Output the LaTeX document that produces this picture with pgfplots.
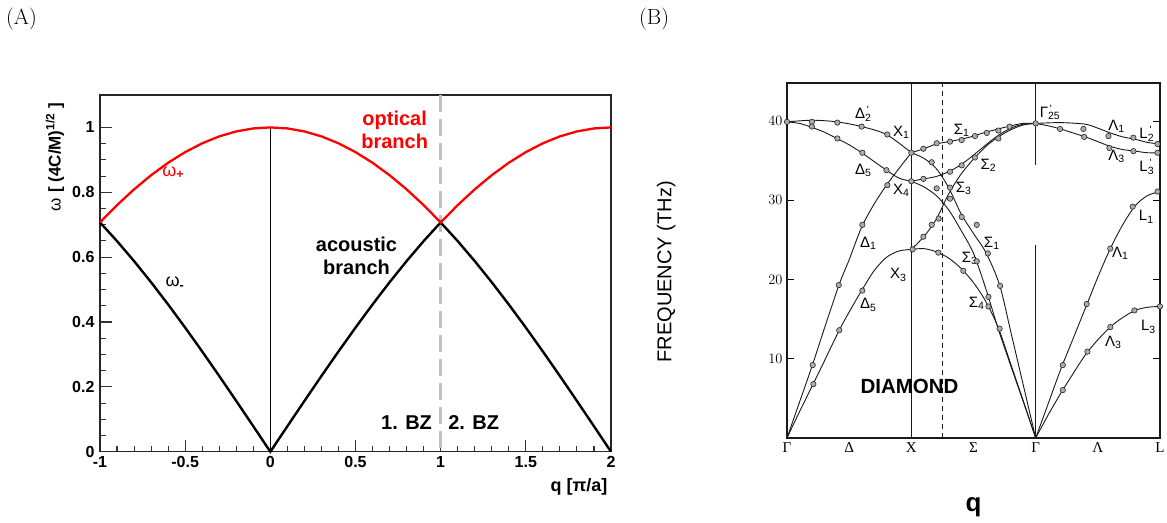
\documentclass[border=0pt]{standalone}
\usepackage{fontspec}
\usepackage{pgfplots}
\pgfplotsset{compat=1.18}
\newfontfamily\hel{Liberation Sans}
\newfontfamily\tms{Liberation Serif}
\definecolor{bzgray}{RGB}{200,192,184}
\begin{document}
\begin{tikzpicture}[x=1pt,y=1pt]
\useasboundingbox (0,0) rectangle (1167,522);
\node[anchor=base west,font=\fontsize{22}{26}\selectfont,inner sep=0] at (6,497) {(A)};
\node[anchor=base west,font=\fontsize{22}{26}\selectfont,inner sep=0] at (639,497) {(B)};
% ---------------- Panel A
\begin{axis}[at={(100pt,70.3pt)},anchor=south west,scale only axis,
  width=511pt,height=356.7pt,
  xmin=-1,xmax=2,ymin=0,ymax=1.1,
  xtick={-1,-0.5,0,0.5,1,1.5,2},xticklabels={-1,-0.5,0,0.5,1,1.5,2},
  ytick={0,0.2,0.4,0.6,0.8,1},yticklabels={0,0.2,0.4,0.6,0.8,1},
  minor x tick num=4,minor y tick num=3,
  tick pos=left,tick align=inside,
  major tick length=12pt,minor tick length=6pt,
  axis line style={line width=1.3pt,black!85},
  tick style={line width=1.1pt,black!80},
  ticklabel style={font=\hel\bfseries\fontsize{16}{18}\selectfont},
  xticklabel style={yshift=-1pt},
  yticklabel style={xshift=-2pt},
  ylabel={{\hel ω} {\hel\bfseries [ (4C/M)\textsuperscript{1/2} ]}},
  ylabel style={at={(axis description cs:-0.088,0.826)},anchor=center,font=\fontsize{17}{20}\selectfont},
  xlabel={\hel\bfseries q [π/a]},
  xlabel style={at={(axis description cs:1,-0.099)},anchor=east,font=\fontsize{18}{20}\selectfont},
  clip=false]
\addplot[black,line width=0.9pt] coordinates {(0,0) (0,1)};
\addplot[bzgray,line width=2.5pt,dash pattern=on 17pt off 7pt] coordinates {(1,1.1) (1,0)};
\addplot[black,line width=2.4pt] coordinates {
(-1,0.70711) (-0.9,0.64945) (-0.8,0.58779) (-0.7,0.52250) (-0.6,0.45399) (-0.5,0.38268)
(-0.4,0.30902) (-0.3,0.23345) (-0.2,0.15643) (-0.1,0.07846) (0,0)
(0.1,0.07846) (0.2,0.15643) (0.3,0.23345) (0.4,0.30902) (0.5,0.38268) (0.6,0.45399)
(0.7,0.52250) (0.8,0.58779) (0.9,0.64945) (1,0.70711)
(1.1,0.64945) (1.2,0.58779) (1.3,0.52250) (1.4,0.45399) (1.5,0.38268) (1.6,0.30902)
(1.7,0.23345) (1.8,0.15643) (1.9,0.07846) (2,0)};
\addplot[red,line width=2.3pt] coordinates {
(-1,0.70711) (-0.9,0.76041) (-0.8,0.80902) (-0.7,0.85264) (-0.6,0.89101) (-0.5,0.92388)
(-0.4,0.95106) (-0.3,0.97237) (-0.2,0.98769) (-0.1,0.99692) (0,1)
(0.1,0.99692) (0.2,0.98769) (0.3,0.97237) (0.4,0.95106) (0.5,0.92388) (0.6,0.89101)
(0.7,0.85264) (0.8,0.80902) (0.9,0.76041) (1,0.70711)
(1.1,0.76041) (1.2,0.80902) (1.3,0.85264) (1.4,0.89101) (1.5,0.92388) (1.6,0.95106)
(1.7,0.97237) (1.8,0.98769) (1.9,0.99692) (2,1)};
\node[red,font=\hel\fontsize{18}{20}\selectfont] at (axis cs:-0.57,0.86) {ω\textsubscript{\bfseries +}};
\node[black,font=\hel\fontsize{18}{20}\selectfont] at (axis cs:-0.56,0.52) {ω\textsubscript{\bfseries -}};
\node[red,font=\hel\bfseries\fontsize{20}{23}\selectfont,align=center] at (axis cs:0.73,0.994) {optical\\branch};
\node[black,font=\hel\bfseries\fontsize{20}{23}\selectfont,align=center] at (axis cs:0.506,0.605) {acoustic\\branch};
\node[black,font=\hel\bfseries\fontsize{20}{23}\selectfont] at (axis cs:0.80,0.091) {1. BZ};
\node[black,font=\hel\bfseries\fontsize{20}{23}\selectfont] at (axis cs:1.194,0.091) {2. BZ};
\end{axis}
% ---------------- Panel B
\begin{axis}[at={(787pt,84pt)},anchor=south west,scale only axis,
  width=373pt,height=355pt,
  xmin=0,xmax=3,ymin=0,ymax=44.8,
  xtick={0,0.5,1,1.5,2,2.5,3},xticklabels={Γ,Δ,X,Σ,Γ,Λ,L},
  ytick={10,20,30,40},
  ytick pos=both,tick align=inside,
  major tick length=7pt,
  x tick style={draw=none},
  y tick style={line width=0.9pt,black},
  axis line style={line width=1.2pt,black!90},
  xticklabel style={font=\tms\fontsize{15}{17}\selectfont,yshift=-1pt},
  yticklabel style={font=\hel\fontsize{15}{17}\selectfont,xshift=-1pt},
  ylabel={\hel FREQUENCY (THz)},
  ylabel style={at={(axis description cs:-0.324,0.468)},anchor=center,font=\fontsize{20}{22}\selectfont},
  xlabel={\hel\bfseries q},
  xlabel style={at={(axis description cs:0.5,-0.196)},anchor=center,font=\fontsize{26}{28}\selectfont},
  clip=false,
  every axis plot/.append style={black!90,line width=0.9pt}]
% vertical lines
\addplot[no markers] coordinates {(1,0) (1,44.8)};
\addplot[no markers,dash pattern=on 5pt off 4pt] coordinates {(1.25,0) (1.25,44.8)};
\addplot[no markers] coordinates {(2,0) (2,24.3)};
\addplot[no markers] coordinates {(2,34.4) (2,44.8)};
% Gamma - X
\addplot[smooth] coordinates {(0,39.9) (0.2,40.1) (0.4,39.9) (0.6,39.3) (0.8,38.3) (1.0,36.0)};
\addplot[smooth] coordinates {(0,39.9) (0.1,39.7) (0.2,39.2) (0.3,38.6) (0.4,37.8) (0.5,37.0) (0.6,36.0) (0.7,34.9) (0.8,33.8) (0.9,32.8) (1.0,32.4)};
\addplot[smooth] coordinates {(0,0) (0.1,4.5) (0.2,9.0) (0.3,13.8) (0.42,19.4) (0.5,22.5) (0.6,26.6) (0.7,29.5) (0.8,31.9) (0.9,34.0) (1.0,36.0)};
\addplot[smooth] coordinates {(0,0) (0.1,3.3) (0.21,6.8) (0.3,9.7) (0.42,13.6) (0.5,15.9) (0.6,18.6) (0.7,21.1) (0.8,22.8) (0.9,23.6) (1.0,23.8)};
% X - Gamma (Sigma)
\addplot[smooth] coordinates {(1.0,36.0) (1.1,36.5) (1.2,37.1) (1.3,37.4) (1.4,37.7) (1.5,38.1) (1.6,38.6) (1.7,39.0) (1.8,39.4) (1.9,39.7) (2.0,39.7)};
\addplot[smooth] coordinates {(1.0,32.4) (1.1,32.7) (1.2,33.0) (1.3,33.6) (1.4,34.5) (1.5,35.7) (1.6,37.0) (1.7,38.2) (1.8,39.1) (1.9,39.6) (2.0,39.7)};
\addplot[smooth] coordinates {(1.0,23.8) (1.1,25.4) (1.2,27.6) (1.3,30.8) (1.4,33.3) (1.5,35.2) (1.6,36.8) (1.7,38.0) (1.8,38.9) (1.9,39.5) (2.0,39.7)};
\addplot[smooth] coordinates {(1.0,36.0) (1.1,35.3) (1.2,34.0) (1.3,31.6) (1.4,28.3) (1.5,25.8) (1.6,23.4) (1.71,19.3) (1.8,13.4) (1.9,6.7) (2.0,0)};
\addplot[smooth] coordinates {(1.0,32.4) (1.1,31.7) (1.2,30.6) (1.3,28.8) (1.4,26.2) (1.5,23.3) (1.6,18.8) (1.7,13.7) (1.8,9.1) (1.9,4.6) (2.0,0)};
\addplot[smooth] coordinates {(1.0,23.8) (1.1,23.9) (1.2,23.5) (1.3,22.7) (1.4,21.4) (1.5,19.6) (1.6,17.2) (1.7,13.9) (1.8,9.3) (1.9,4.7) (2.0,0)};
% Gamma - L
\addplot[smooth] coordinates {(2.0,39.7) (2.2,39.8) (2.4,39.6) (2.5,39.1) (2.6,38.5) (2.7,38.0) (2.8,37.7) (2.9,37.3) (3.0,37.1)};
\addplot[smooth] coordinates {(2.0,39.7) (2.1,39.4) (2.2,39.0) (2.3,38.5) (2.4,38.0) (2.5,37.4) (2.6,36.8) (2.7,36.4) (2.8,36.2) (2.9,36.0) (3.0,36.0)};
\addplot[smooth] coordinates {(2,0) (2.1,4.3) (2.2,8.6) (2.3,12.5) (2.4,16.4) (2.5,20.3) (2.6,23.9) (2.7,26.9) (2.8,29.3) (2.9,30.6) (3.0,31.1)};
\addplot[smooth] coordinates {(2,0) (2.1,2.9) (2.2,5.6) (2.3,8.1) (2.4,10.5) (2.5,12.4) (2.6,14.0) (2.7,15.2) (2.8,16.1) (2.9,16.5) (3.0,16.6)};
% measured points
\addplot[only marks,mark=*,mark size=2.7pt,mark options={fill=gray!65,draw=black!85,line width=0.6pt}] coordinates {
(0,39.9) (0.2,39.9) (0.2,39.3) (0.405,39.8) (0.6,39.3) (0.807,38.3) (1.0,36.0)
(0.405,37.8) (0.606,36.0) (0.80,33.8) (1.0,32.4)
(0.207,9.2) (0.416,19.3) (0.606,26.9) (0.807,31.9)
(0.212,6.8) (0.42,13.6) (0.606,18.6) (1.01,23.8)
(1.097,36.5) (1.204,37.2) (1.311,37.4) (1.405,37.6) (1.512,38.1) (1.607,38.5) (1.70,38.8) (1.79,39.3)
(1.164,34.8) (1.097,32.7) (1.204,31.5) (1.311,31.6) (1.311,33.6) (1.405,34.4) (1.512,35.4) (1.70,37.8)
(1.311,30.2) (1.405,27.9) (1.526,26.9) (1.615,23.3) (1.714,19.2)
(1.097,25.4) (1.164,26.9) (1.22,27.7)
(1.217,23.4) (1.418,21.1) (1.526,22.3) (1.62,17.8) (1.62,16.6) (1.71,13.8)
(2.0,39.7) (2.196,39.0) (2.39,38.0) (2.384,39.0) (2.585,38.1) (2.593,36.6) (2.786,37.9) (2.786,36.2)
(2.98,37.1) (2.98,36.0) (2.98,31.1) (2.78,29.2) (2.6,23.9) (2.218,9.2) (2.41,16.9)
(2.218,6.05) (2.416,10.9) (2.6,14.0) (2.794,16.1) (3.0,16.6)};
% labels
\begin{scope}[every node/.style={font=\hel\fontsize{15}{17}\selectfont,inner sep=0}]
\node at (axis cs:0.614,40.9) {Δ\rlap{\textsuperscript{\,\textquotesingle}}\textsubscript{2}};
\node at (axis cs:0.92,38.6) {X\textsubscript{1}};
\node at (axis cs:0.614,33.8) {Δ\textsubscript{5}};
\node at (axis cs:0.92,31.3) {X\textsubscript{4}};
\node at (axis cs:0.654,24.6) {Δ\textsubscript{1}};
\node at (axis cs:0.895,20.6) {X\textsubscript{3}};
\node at (axis cs:0.654,16.8) {Δ\textsubscript{5}};
\node at (axis cs:1.405,38.8) {Σ\textsubscript{1}};
\node at (axis cs:1.62,34.4) {Σ\textsubscript{2}};
\node at (axis cs:1.42,31.5) {Σ\textsubscript{3}};
\node at (axis cs:1.647,24.6) {Σ\textsubscript{1}};
\node at (axis cs:1.47,22.7) {Σ\textsubscript{3}};
\node at (axis cs:1.526,17.0) {Σ\textsubscript{4}};
\node at (axis cs:2.116,41.1) {Γ\rlap{\textsuperscript{\,\textquotesingle}}\textsubscript{25}};
\node at (axis cs:2.65,39.3) {Λ\textsubscript{1}};
\node at (axis cs:2.894,38.4) {L\rlap{\textsuperscript{\,\textquotesingle}}\textsubscript{2}};
\node at (axis cs:2.65,35.5) {Λ\textsubscript{3}};
\node at (axis cs:2.894,34.2) {L\rlap{\textsuperscript{\,\textquotesingle}}\textsubscript{3}};
\node at (axis cs:2.89,27.9) {L\textsubscript{1}};
\node at (axis cs:2.68,23.3) {Λ\textsubscript{1}};
\node at (axis cs:2.907,14.0) {L\textsubscript{3}};
\node at (axis cs:2.625,12.1) {Λ\textsubscript{3}};
\end{scope}
\node[font=\hel\bfseries\fontsize{20.5}{23}\selectfont] at (axis cs:0.985,6.56) {DIAMOND};
\end{axis}
\end{tikzpicture}
\end{document}
